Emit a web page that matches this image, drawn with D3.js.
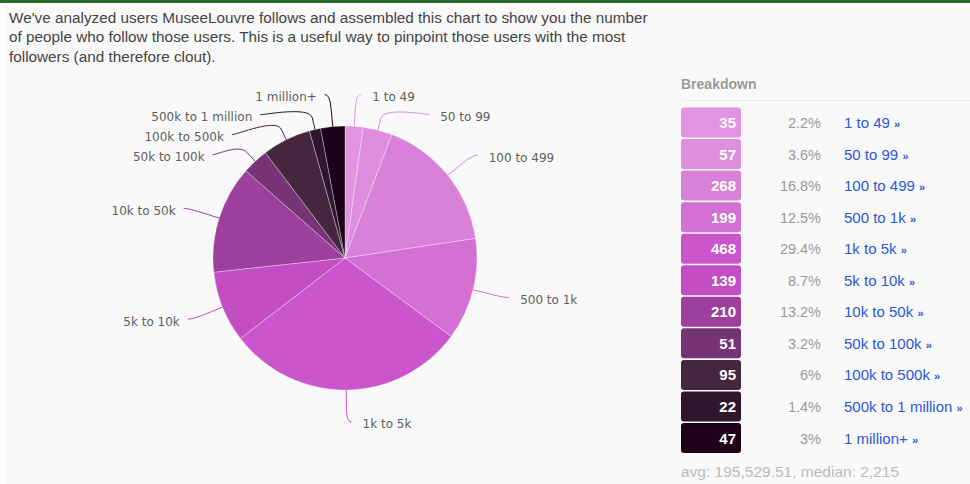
<!DOCTYPE html>
<html>
<head>
<meta charset="utf-8">
<script src="https://cdn.jsdelivr.net/npm/d3@7"></script>
<style>
  html, body { margin: 0; padding: 0; background: #fff; }
  svg { display: block; }
</style>
</head>
<body>
<svg id="chart" width="970" height="484"></svg>
<script>
// ---- data ----
const categories = ["1 to 49", "50 to 99", "100 to 499", "500 to 1k", "1k to 5k", "5k to 10k",
  "10k to 50k", "50k to 100k", "100k to 500k", "500k to 1 million", "1 million+"];
const counts = [35, 57, 268, 199, 468, 139, 210, 51, 95, 22, 47];
const percents = ["2.2%", "3.6%", "16.8%", "12.5%", "29.4%", "8.7%", "13.2%", "3.2%", "6%", "1.4%", "3%"];
const colors = ["#e194e0", "#dd8ede", "#d980d8", "#d46fd3", "#ca55cc", "#c34ec3",
  "#9d409d", "#763375", "#45263f", "#2f162c", "#1d0019"];
const introLines = [
  "We've analyzed users MuseeLouvre follows and assembled this chart to show you the number",
  "of people who follow those users. This is a useful way to pinpoint those users with the most",
  "followers (and therefore clout)."
];
const breakdownTitle = "Breakdown";
const footerText = "avg: 195,529.51, median: 2,215";

// ---- layout ----
const svg = d3.select("#chart");
svg.append("rect").attr("x", 0).attr("y", 0).attr("width", 970).attr("height", 484).attr("fill", "#ffffff");
svg.append("rect").attr("x", 5).attr("y", 3).attr("width", 965).attr("height", 481).attr("fill", "#f9f9f9");
svg.append("rect").attr("x", 0).attr("y", 0).attr("width", 970).attr("height", 3).attr("fill", "#2c6a2f");

// intro text
svg.append("g").selectAll("text").data(introLines).join("text")
  .attr("x", 9).attr("y", (d, i) => 22.5 + i * 19.5)
  .attr("font-family", "'Liberation Sans', Arial, Helvetica, sans-serif")
  .attr("font-size", 15.3).attr("fill", "#444")
  .text(d => d);

// ---- pie ----
const cx = 345, cy = 258, r = 132, labelR = 164;
const pie = d3.pie().value(d => d).sort(null);
const arcs = pie(counts);
const arc = d3.arc().innerRadius(0).outerRadius(r);

const g = svg.append("g").attr("transform", `translate(${cx},${cy})`);
g.selectAll("path.slice").data(arcs).join("path")
  .attr("class", "slice")
  .attr("d", arc)
  .attr("fill", (d, i) => colors[i])
  .attr("stroke", "#ffffff").attr("stroke-width", 0.8).attr("stroke-opacity", 0.4);

// label positions with simple collision avoidance (min spacing 20px)
const labels = arcs.map((a, i) => {
  const ang = (a.startAngle + a.endAngle) / 2;
  return {
    i, ang,
    right: Math.sin(ang) >= 0,
    y: -Math.cos(ang) * labelR
  };
});
["right", "left"].forEach(side => {
  const grp = labels.filter(l => (side === "right") === l.right).sort((a, b) => a.y - b.y);
  for (let k = 1; k < grp.length; k++) {
    if (grp[k].y - grp[k - 1].y < 20) grp[k].y = grp[k - 1].y + 20;
  }
});
labels.forEach(l => {
  const dy = Math.max(-labelR, Math.min(labelR, l.y));
  const dx = Math.sqrt(labelR * labelR - dy * dy);
  l.x = l.right ? dx : -dx;
});

const breakR = r + 12, ctrlR = r + 24;
g.selectAll("path.conn").data(labels).join("path")
  .attr("class", "conn")
  .attr("fill", "none")
  .attr("stroke", d => colors[d.i])
  .attr("stroke-width", 1)
  .attr("d", d => {
    const s = Math.sin(d.ang), c = -Math.cos(d.ang);
    const p = d3.path();
    p.moveTo(d.x + (d.right ? 5 : -5), d.y);
    p.bezierCurveTo(d.x, d.y, s * ctrlR, c * ctrlR, s * breakR, c * breakR);
    p.lineTo(s * r, c * r);
    return p.toString();
  });

g.selectAll("text.lbl").data(labels).join("text")
  .attr("class", "lbl")
  .attr("x", d => d.x + (d.right ? 16 : -13))
  .attr("y", d => d.y + 6.5)
  .attr("text-anchor", d => d.right ? "start" : "end")
  .attr("font-family", "'DejaVu Sans', Verdana, sans-serif")
  .attr("font-size", 12).attr("fill", "#606060")
  .text(d => categories[d.i]);

// ---- breakdown panel ----
const px = 681;
svg.append("text").attr("x", px).attr("y", 89)
  .attr("font-family", "'Liberation Sans', Arial, Helvetica, sans-serif")
  .attr("font-size", 14).attr("font-weight", "bold").attr("fill", "#999")
  .text(breakdownTitle);
svg.append("line").attr("x1", px).attr("x2", 970).attr("y1", 100.5).attr("y2", 100.5)
  .attr("stroke", "#ececec").attr("stroke-width", 1);

const rowY = d3.scaleBand().domain(categories).range([107.5, 453]).paddingInner(0.05);
const rows = svg.append("g").selectAll("g").data(categories).join("g")
  .attr("transform", d => `translate(0,${rowY(d)})`);
rows.append("rect")
  .attr("x", px).attr("y", 0).attr("width", 60).attr("height", rowY.bandwidth())
  .attr("rx", 3).attr("fill", (d, i) => colors[i]);
rows.append("text")
  .attr("x", 736).attr("y", rowY.bandwidth() / 2 + 5.5)
  .attr("text-anchor", "end")
  .attr("font-family", "'Liberation Sans', Arial, Helvetica, sans-serif")
  .attr("font-size", 15).attr("font-weight", "bold").attr("fill", "#fff")
  .text((d, i) => counts[i]);
rows.append("text")
  .attr("x", 821).attr("y", rowY.bandwidth() / 2 + 5.5)
  .attr("text-anchor", "end")
  .attr("font-family", "'Liberation Sans', Arial, Helvetica, sans-serif")
  .attr("font-size", 14.5).attr("fill", "#999")
  .text((d, i) => percents[i]);
const link = rows.append("text")
  .attr("x", 844).attr("y", rowY.bandwidth() / 2 + 5.5)
  .attr("font-family", "'Liberation Sans', Arial, Helvetica, sans-serif")
  .attr("font-size", 15).attr("fill", "#2b57d9");
link.append("tspan").text(d => d + " ");
link.append("tspan").attr("font-size", 11).attr("font-weight", "bold").text("»");

svg.append("text").attr("x", px).attr("y", 477)
  .attr("font-family", "'Liberation Sans', Arial, Helvetica, sans-serif")
  .attr("font-size", 15.5).attr("fill", "#bbb")
  .text(footerText);
</script>
</body>
</html>
